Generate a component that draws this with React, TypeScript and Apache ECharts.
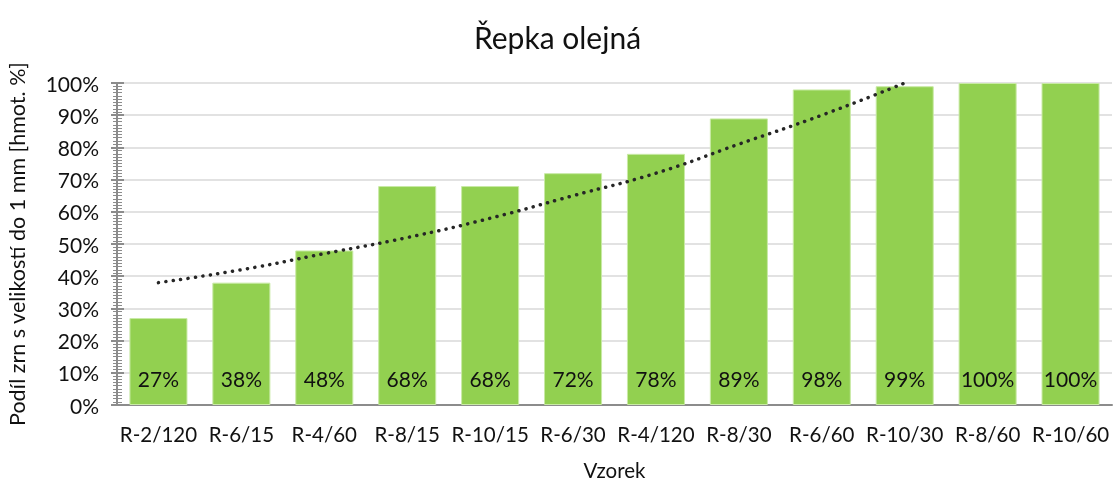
import React, { useEffect, useRef } from "react";
import * as echarts from "echarts";

const categories = ["R-2/120", "R-6/15", "R-4/60", "R-8/15", "R-10/15", "R-6/30", "R-4/120", "R-8/30", "R-6/60", "R-10/30", "R-8/60", "R-10/60"];
const values = [27, 38, 48, 68, 68, 72, 78, 89, 98, 99, 100, 100];
const trend = [38, 42, 47, 52, 58, 65, 72, 81, 90, 100, null, null];
const yTicks = [0, 10, 20, 30, 40, 50, 60, 70, 80, 90, 100];

const FONT = "Lato";
const TXT = "#111111";
const AXIS = "#8c8c8c";

export default function App() {
  const ref = useRef<HTMLDivElement>(null);
  useEffect(() => {
    if (!ref.current) return;
    const chart = echarts.init(ref.current, undefined, { renderer: "svg" });
    const yMin = yTicks[0];
    const yMax = yTicks[yTicks.length - 1];
    chart.setOption({
      animation: false,
      textStyle: { fontFamily: FONT },
      title: {
        text: "Řepka olejná",
        left: "center",
        top: 17,
        textStyle: { fontFamily: FONT, fontSize: 30, fontWeight: "normal", color: TXT },
      },
      grid: { left: 117, right: 3, top: 83, bottom: 76, containLabel: false, outerBoundsMode: "none" },
      xAxis: {
        type: "category",
        data: categories,
        name: "Vzorek",
        nameLocation: "middle",
        nameGap: 54,
        nameTextStyle: { fontFamily: FONT, fontSize: 20.5, color: TXT },
        axisLine: { lineStyle: { color: AXIS, width: 2 } },
        axisTick: { show: false },
        axisLabel: { fontFamily: FONT, fontSize: 20.5, color: TXT, margin: 18, interval: 0 },
      },
      yAxis: [
        {
          type: "value",
          min: yMin,
          max: yMax,
          interval: 10,
          name: "Podíl zrn s velikostí do 1 mm [hmot. %]",
          nameLocation: "middle",
          nameGap: 89,
          nameTextStyle: { fontFamily: FONT, fontSize: 21.5, color: TXT },
          axisLine: { show: true, lineStyle: { color: AXIS, width: 2 } },
          axisTick: { show: true, inside: false, length: 6, lineStyle: { color: AXIS, width: 2 } },
          minorTick: { show: true, splitNumber: 10, length: 4, lineStyle: { color: AXIS, width: 1 } },
          splitLine: { show: true, lineStyle: { color: "#d9d9d9", width: 1.5 } },
          axisLabel: { fontFamily: FONT, fontSize: 21, color: TXT, formatter: "{value}%", margin: 18 },
        },
        {
          type: "value",
          position: "left",
          offset: 0,
          min: yMin,
          max: yMax,
          interval: 10,
          axisLine: { show: false },
          axisTick: { show: true, inside: true, length: 7, lineStyle: { color: AXIS, width: 2 } },
          minorTick: { show: true, splitNumber: 10, length: 5, lineStyle: { color: AXIS, width: 1 } },
          splitLine: { show: false },
          axisLabel: { show: false },
        },
      ],
      series: [
        {
          type: "bar",
          data: values,
          barCategoryGap: "30%",
          itemStyle: { color: "#92d050", borderColor: "#c9eaa6", borderWidth: 1 },
          label: {
            show: true,
            position: "insideBottom",
            distance: 16,
            formatter: "{c}%",
            fontFamily: FONT,
            fontSize: 21,
            color: TXT,
          },
          z: 2,
        },
        {
          type: "line",
          data: trend,
          symbol: "none",
          smooth: true,
          connectNulls: false,
          lineStyle: { color: "#262626", width: 3.5, type: [0.1, 7.4], cap: "round" },
          z: 3,
        },
      ],
    });
    return () => chart.dispose();
  }, []);
  return <div ref={ref} style={{ position: "fixed", left: 0, top: 0, width: 1115, height: 481 }} />;
}
